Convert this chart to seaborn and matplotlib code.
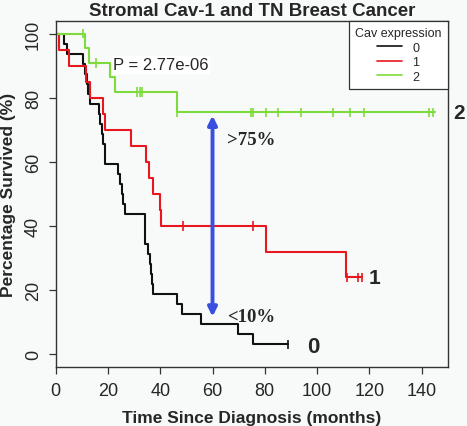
import matplotlib

matplotlib.use("Agg")
import matplotlib.pyplot as plt
import pandas as pd
import seaborn as sns
from matplotlib.lines import Line2D

# Kaplan-Meier steps (months, % survived)
t0 = [0, 3.3, 4.2, 10.6, 11.3, 11.9, 12.5, 13.2, 16.4, 17.0, 17.7, 18.2, 18.7, 19.0,
      23.8, 24.7, 25.3, 25.9, 26.7, 34.1, 35.2, 36.0, 36.5, 36.9, 37.4, 46.5, 48.5,
      55.5, 69.6, 75.4, 89.0]
s0 = [100, 96.9, 93.8, 90.6, 87.5, 84.4, 81.3, 78.1, 75.0, 71.9, 68.8, 65.6, 62.5, 59.4,
      56.3, 53.1, 50.0, 46.9, 43.8, 34.4, 31.3, 28.1, 25.0, 21.9, 18.8, 15.6, 12.5,
      9.4, 6.3, 3.1, 3.1]
t1 = [0, 1.4, 4.9, 11.5, 13.3, 18.0, 19.0, 29.0, 34.4, 35.6, 37.3, 39.8, 40.4, 80.5, 110.9, 117.3]
s1 = [100, 95, 90, 85, 80, 75, 70, 65, 60, 55, 50, 45, 40, 32, 24, 24]
t2 = [0, 11.3, 12.7, 20.6, 22.8, 46.5, 145.0]
s2 = [100, 95.5, 90.9, 86.4, 81.8, 75.5, 75.5]

# censoring marks
c0_t = [89.0]
c0_s = [3.1]
c1_t = [48.7, 75.6, 111.3, 115.8, 117.3]
c1_s = [40, 40, 24, 24, 24]
c2_t = [10.6, 15.5, 31.1, 32.2, 33.1, 46.5, 74.7, 75.5, 80.6, 85.0, 94.0, 106.2, 112.5,
        118.0, 142.7, 144.5]
c2_s = [100, 90.9, 81.8, 81.8, 81.8] + [75.5] * 11

groups = ["0", "1", "2"]
colors = {"0": "#111111", "1": "#e8161e", "2": "#7ddc3c"}
bg = "#f8fafa"

curves = pd.concat([
    pd.DataFrame({"time": t, "surv": s, "group": g})
    for g, t, s in zip(groups, [t0, t1, t2], [s0, s1, s2])
])
cens = pd.concat([
    pd.DataFrame({"time": t, "surv": s, "group": g})
    for g, t, s in zip(groups, [c0_t, c1_t, c2_t], [c0_s, c1_s, c2_s])
])

sns.set_style("white")
plt.rcParams["font.family"] = ["Liberation Sans", "DejaVu Sans"]

fig = plt.figure(figsize=(4.67, 4.27), dpi=100, facecolor=bg)
ax = fig.add_axes([0.1193, 0.1382, 0.8394, 0.8103], facecolor=bg)

sns.lineplot(data=curves, x="time", y="surv", hue="group", palette=colors,
             estimator=None, sort=False, drawstyle="steps-post", lw=1.5,
             legend=False, ax=ax)
sns.scatterplot(data=cens, x="time", y="surv", hue="group", palette=colors,
                marker="|", s=45, linewidth=1.2, legend=False, ax=ax, zorder=3)

ax.set_xlim(0, 150)
ax.set_ylim(-4, 104)
ax.set_xticks(range(0, 141, 20))
ax.set_yticks(range(0, 101, 20))
ax.tick_params(axis="both", labelsize=13, length=5, width=0.9, color="#333333",
               direction="out", bottom=True, left=True)
ax.tick_params(axis="x", pad=6)
ax.tick_params(axis="y", pad=5)
for lab in ax.get_yticklabels():
    lab.set_rotation(90)
    lab.set_va("center")
for sp in ax.spines.values():
    sp.set_color("#333333")
    sp.set_linewidth(1.0)

ax.set_title("Stromal Cav-1 and TN Breast Cancer", fontsize=13.5, fontweight="bold", pad=4)
ax.set_xlabel("Time Since Diagnosis (months)", fontsize=12.5, fontweight="bold", labelpad=8)
ax.set_ylabel("Percentage Survived (%)", fontsize=12.5, fontweight="bold", labelpad=6)

ax.text(22, 90.3, "P = 2.77e-06", fontsize=12, va="center", ha="left",
        bbox=dict(facecolor="white", edgecolor="none", pad=1))

ax.annotate("", xy=(60, 74.5), xytext=(60, 11.7),
            arrowprops=dict(arrowstyle="<|-|>", color="#3a4fe0", lw=2.8,
                            mutation_scale=13, shrinkA=0, shrinkB=0))
serif = ["Liberation Serif", "DejaVu Serif"]
ax.text(65.5, 67, ">75%", family=serif, fontweight="bold", fontsize=13.5,
        va="center", ha="left")
ax.text(65.5, 11.8, "<10%", family=serif, fontweight="bold", fontsize=13.5,
        va="center", ha="left")

ax.text(152.3, 75.5, "2", fontsize=15, fontweight="bold", va="center", ha="left",
        clip_on=False)
ax.text(119.6, 24, "1", fontsize=15, fontweight="bold", va="center", ha="left")
ax.text(96.3, 2.5, "0", fontsize=16, fontweight="bold", va="center", ha="left")

handles = [Line2D([], [], color=colors[g], lw=1.2) for g in groups]
leg = ax.legend(handles, groups, title="Cav expression", loc="upper right",
                fontsize=9, title_fontsize=9, frameon=True, fancybox=False,
                framealpha=1, facecolor="white", edgecolor="#333333",
                borderaxespad=0, handlelength=2.0, labelspacing=0.2,
                borderpad=0.5)
leg.get_frame().set_linewidth(0.9)

fig.savefig("out.png", dpi=100, facecolor=bg)
plt.close(fig)
